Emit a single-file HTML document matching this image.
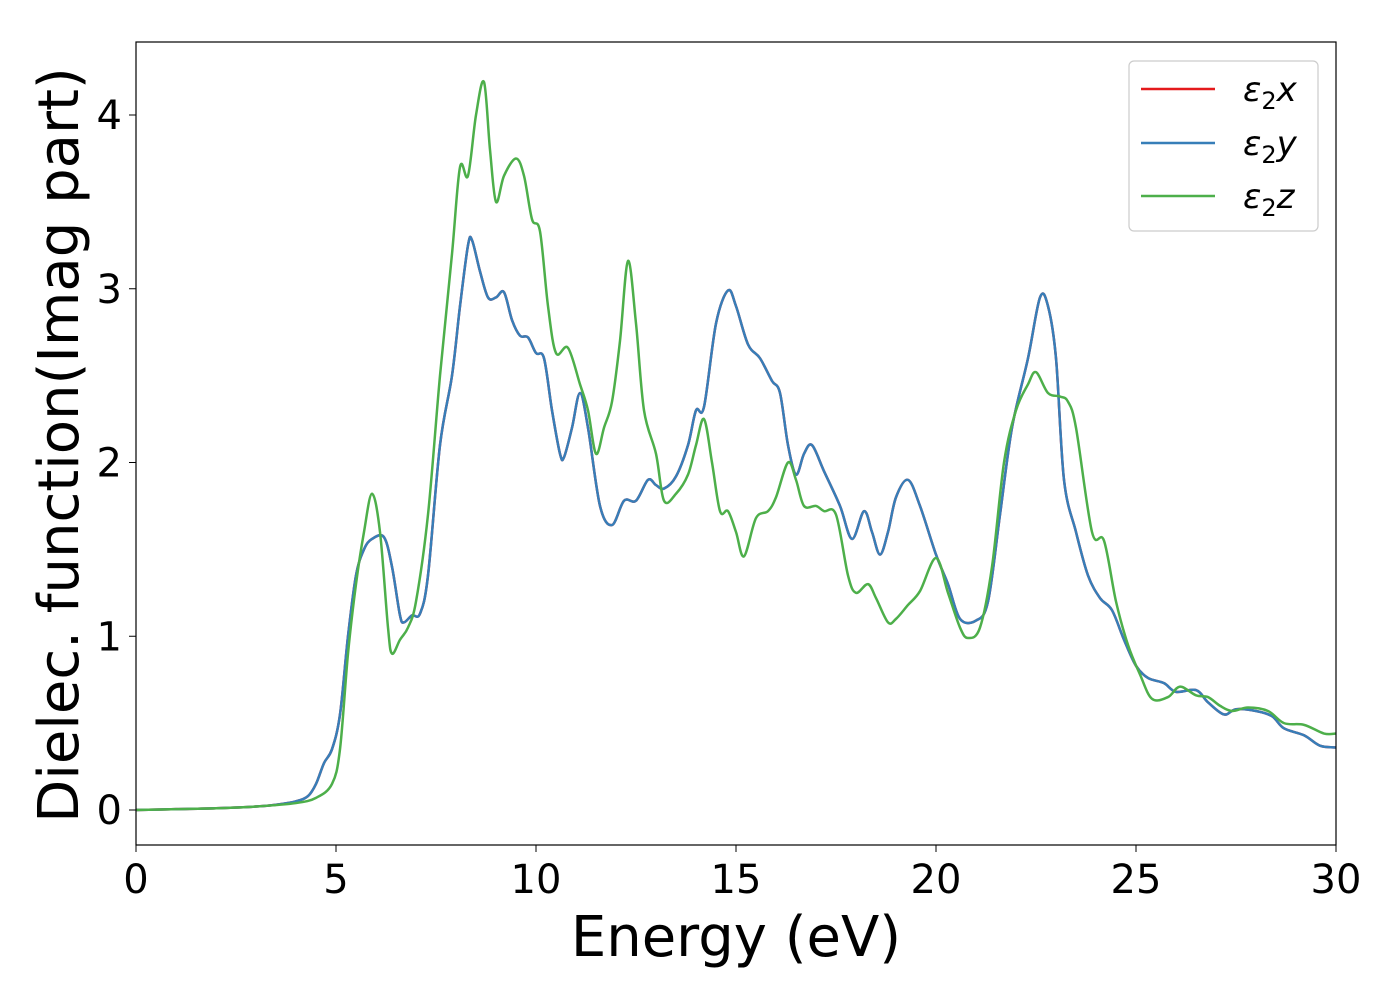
<!DOCTYPE html>
<html><head><meta charset="utf-8"><style>
body{margin:0;background:#fff}
text{font-family:"DejaVu Sans","Liberation Sans",sans-serif}
</style></head><body>
<svg id="chart" width="1400" height="1000" viewBox="0 0 1400 1000" xmlns="http://www.w3.org/2000/svg">
<rect width="1400" height="1000" fill="#fff"/>
<g id="plot"></g>
<rect x="136" y="42" width="1200" height="803" fill="none" stroke="#000" stroke-width="1.2"/>
<g id="ticks"></g>
<text x="736" y="956" font-size="56" text-anchor="middle">Energy (eV)</text>
<text transform="translate(78,445) rotate(-90)" font-size="56" text-anchor="middle">Dielec. function(Imag part)</text>
<g>
<rect x="1129" y="61" width="189" height="170" rx="5" fill="#fff" stroke="#ccc" stroke-width="1.2"/>
<line x1="1141" y1="89" x2="1215" y2="89" stroke="#e41a1c" stroke-width="2.5"/>
<text x="1243" y="101" font-size="34" font-style="italic">ε<tspan font-size="24" font-style="normal" dy="8">2</tspan><tspan dy="-8">x</tspan></text>
<line x1="1141" y1="143" x2="1215" y2="143" stroke="#377eb8" stroke-width="2.5"/>
<text x="1243" y="155" font-size="34" font-style="italic">ε<tspan font-size="24" font-style="normal" dy="8">2</tspan><tspan dy="-8">y</tspan></text>
<line x1="1141" y1="196" x2="1215" y2="196" stroke="#4daf4a" stroke-width="2.5"/>
<text x="1243" y="208" font-size="34" font-style="italic">ε<tspan font-size="24" font-style="normal" dy="8">2</tspan><tspan dy="-8">z</tspan></text>
</g>
</svg>
<script>
const xTicks=[0,5,10,15,20,25,30];
const yTicks=[0,1,2,3,4];
const energyXY=[0,1,2,3,3.5,4,4.3,4.5,4.7,4.9,5.1,5.3,5.5,5.7,5.9,6.2,6.4,6.6,6.7,6.9,7.1,7.3,7.6,7.9,8.1,8.3,8.4,8.6,8.8,9.0,9.2,9.4,9.6,9.8,10.0,10.2,10.4,10.6,10.7,10.9,11.1,11.3,11.6,11.9,12.2,12.5,12.8,13.0,13.2,13.5,13.8,14.0,14.2,14.5,14.8,15.0,15.3,15.6,15.9,16.1,16.3,16.5,16.7,16.9,17.2,17.6,17.9,18.2,18.4,18.6,18.8,19.0,19.3,19.6,20.0,20.3,20.6,21.0,21.3,21.6,21.9,22.3,22.6,22.8,23.0,23.2,23.5,23.8,24.1,24.4,24.7,25.0,25.3,25.7,26.0,26.5,26.8,27.2,27.5,28.0,28.4,28.7,29.2,29.6,30];
const eps2y=[0,0.005,0.01,0.02,0.03,0.05,0.08,0.15,0.27,0.35,0.55,1.0,1.35,1.5,1.56,1.57,1.4,1.12,1.08,1.12,1.13,1.35,2.1,2.5,2.9,3.25,3.28,3.1,2.95,2.95,2.98,2.82,2.73,2.72,2.63,2.6,2.3,2.05,2.03,2.2,2.4,2.2,1.75,1.64,1.78,1.78,1.9,1.87,1.85,1.92,2.1,2.3,2.32,2.8,2.99,2.9,2.68,2.6,2.47,2.4,2.1,1.93,2.05,2.1,1.95,1.75,1.56,1.72,1.6,1.47,1.6,1.8,1.9,1.75,1.47,1.3,1.1,1.09,1.2,1.7,2.2,2.6,2.95,2.9,2.6,1.9,1.6,1.35,1.22,1.15,0.98,0.83,0.76,0.73,0.68,0.69,0.62,0.55,0.58,0.57,0.54,0.47,0.43,0.37,0.36];
const eps2x=eps2y.slice();
const energyZ=[0,1,2,3,4,4.5,4.9,5.1,5.3,5.5,5.7,5.9,6.1,6.3,6.4,6.6,6.8,7.0,7.3,7.6,7.9,8.1,8.3,8.5,8.7,8.85,9.0,9.2,9.5,9.7,9.9,10.1,10.3,10.5,10.8,11.1,11.3,11.5,11.7,11.9,12.1,12.3,12.5,12.7,13.0,13.2,13.5,13.8,14.0,14.2,14.4,14.6,14.8,15.0,15.2,15.5,15.8,16.0,16.3,16.5,16.7,17.0,17.2,17.5,17.8,18.0,18.3,18.5,18.8,19.0,19.3,19.6,20.0,20.3,20.6,20.8,21.1,21.4,21.7,22.0,22.3,22.5,22.8,23.1,23.3,23.5,23.9,24.2,24.5,24.8,25.1,25.4,25.8,26.1,26.5,26.8,27.1,27.4,27.8,28.3,28.7,29.2,29.7,30];
const eps2z=[0,0.005,0.01,0.02,0.04,0.07,0.15,0.35,0.9,1.3,1.6,1.82,1.6,1.05,0.9,0.98,1.05,1.2,1.7,2.5,3.2,3.7,3.65,4.0,4.19,3.8,3.5,3.65,3.75,3.65,3.4,3.33,2.9,2.63,2.66,2.45,2.3,2.05,2.2,2.35,2.7,3.16,2.8,2.3,2.05,1.78,1.82,1.93,2.1,2.25,2.0,1.72,1.72,1.6,1.46,1.68,1.72,1.8,2.0,1.9,1.75,1.75,1.72,1.7,1.35,1.25,1.3,1.22,1.08,1.1,1.18,1.26,1.45,1.25,1.05,0.99,1.05,1.4,2.0,2.3,2.45,2.52,2.4,2.38,2.35,2.2,1.6,1.55,1.2,0.95,0.78,0.64,0.65,0.71,0.66,0.65,0.6,0.57,0.59,0.57,0.5,0.49,0.44,0.44];

const NS='http://www.w3.org/2000/svg';
function xs(v){return 136+v*40;}
function ys(v){return 810-v*173.75;}
function pathFor(X,Y){
  const p=X.map((x,i)=>[xs(x),ys(Y[i])]);
  let d='M'+p[0][0]+','+p[0][1];
  for(let i=0;i<p.length-1;i++){
    const p0=p[i-1]||p[i],p1=p[i],p2=p[i+1],p3=p[i+2]||p2;
    const c1x=p1[0]+(p2[0]-p0[0])/6,c1y=p1[1]+(p2[1]-p0[1])/6;
    const c2x=p2[0]-(p3[0]-p1[0])/6,c2y=p2[1]-(p3[1]-p1[1])/6;
    d+=' C'+c1x+','+c1y+' '+c2x+','+c2y+' '+p2[0]+','+p2[1];
  }
  return d;
}
const plot=document.getElementById('plot');
[[energyXY,eps2x,'#e41a1c','series-eps2x'],[energyXY,eps2y,'#377eb8','series-eps2y'],[energyZ,eps2z,'#4daf4a','series-eps2z']].forEach(s=>{
  const el=document.createElementNS(NS,'path');
  el.setAttribute('d',pathFor(s[0],s[1]));
  el.setAttribute('fill','none');el.setAttribute('stroke',s[2]);el.setAttribute('stroke-width','2.5');
  
  
  plot.appendChild(el);
});
const tg=document.getElementById('ticks');
xTicks.forEach(t=>{
  const l=document.createElementNS(NS,'line');
  l.setAttribute('x1',xs(t));l.setAttribute('x2',xs(t));l.setAttribute('y1',845);l.setAttribute('y2',852);l.setAttribute('stroke','#000');
  
  
  tg.appendChild(l);
  const tx=document.createElementNS(NS,'text');
  tx.setAttribute('x',xs(t));tx.setAttribute('y',893);tx.setAttribute('font-size','40');tx.setAttribute('text-anchor','middle');
  tx.textContent=t;
  
  
  tg.appendChild(tx);
});
yTicks.forEach(t=>{
  const l=document.createElementNS(NS,'line');
  l.setAttribute('x1',129);l.setAttribute('x2',136);l.setAttribute('y1',ys(t));l.setAttribute('y2',ys(t));l.setAttribute('stroke','#000');
  
  
  tg.appendChild(l);
  const tx=document.createElementNS(NS,'text');
  tx.setAttribute('x',122);tx.setAttribute('y',ys(t)+14);tx.setAttribute('font-size','40');tx.setAttribute('text-anchor','end');
  tx.textContent=t;
  
  
  tg.appendChild(tx);
});
</script>
</body></html>
